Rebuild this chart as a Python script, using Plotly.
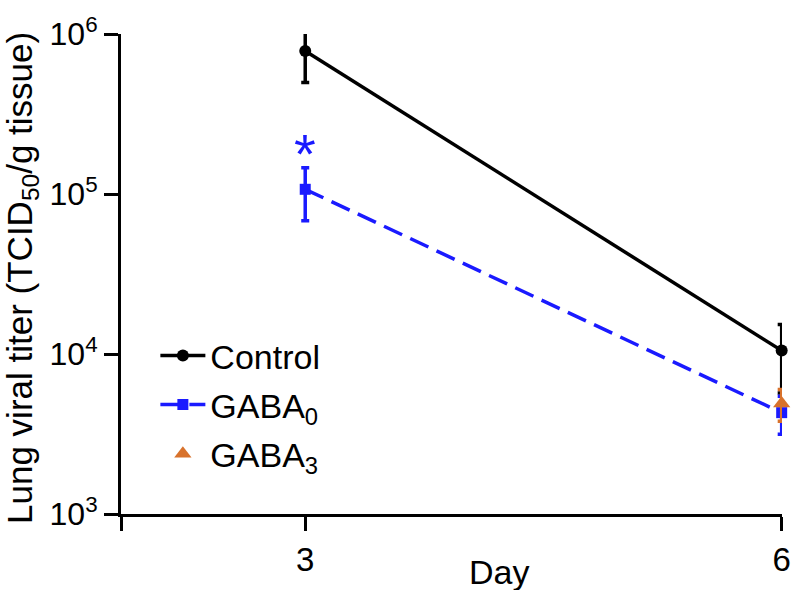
import plotly.graph_objects as go

days = [3, 6]
control = [7.83e5, 1.05e4]
control_err = [2.85e5, 4.8e3]
gaba0 = [1.07e5, 4.3e3]
gaba0_err = [3.9e4, 1.15e3]
gaba3_days = [6]
gaba3 = [4.9e3]
gaba3_err = [1.1e3]

y_tickvals = [1e3, 1e4, 1e5, 1e6]
y_ticktext = ["10<sup>3</sup>", "10<sup>4</sup>", "10<sup>5</sup>", "10<sup>6</sup>"]
x_range = [1.84, 6.002]
x_tickvals = [1.84, 3, 6]
x_ticktext = ["", "3", "6"]

BLUE = "#1a1aff"
ORANGE = "#d8722c"
FONT = "Liberation Sans, Arial, Helvetica, sans-serif"

fig = go.Figure()
fig.add_trace(go.Scatter(
    x=days, y=control, name="Control", mode="lines+markers",
    line=dict(color="black", width=3.5),
    marker=dict(symbol="circle", size=12, color="black"),
    error_y=dict(type="data", array=control_err, color="black", thickness=3.5, width=4),
    cliponaxis=False, legendgroup="a"))
fig.add_trace(go.Scatter(
    x=days, y=gaba0, name="GABA<sub>0</sub>", mode="lines+markers",
    line=dict(color=BLUE, width=3.5, dash="20px,9px"),
    marker=dict(symbol="square", size=11, color=BLUE),
    error_y=dict(type="data", array=gaba0_err, color=BLUE, thickness=3.5, width=4),
    cliponaxis=False, legendgroup="b"))
fig.add_trace(go.Scatter(
    x=gaba3_days, y=gaba3, name="GABA<sub>3</sub>", mode="markers",
    marker=dict(symbol="triangle-up", size=15, color=ORANGE),
    error_y=dict(type="data", array=gaba3_err, color=ORANGE, thickness=3.5, width=4),
    cliponaxis=False, legendgroup="c"))

fig.add_annotation(x=3, y=5.254, xref="x", yref="y", text="*", showarrow=False,
                   font=dict(size=56, color=BLUE, family=FONT), xanchor="center", yanchor="middle")
fig.add_annotation(x=-0.1498, y=0.4917, xref="paper", yref="paper",
                   text="Lung viral titer (TCID<sub>50</sub>/g tissue)", textangle=-90,
                   showarrow=False, font=dict(size=35, color="black", family=FONT),
                   xanchor="center", yanchor="middle")
fig.add_annotation(x=0.572, y=-0.12, xref="paper", yref="paper", text="Day",
                   showarrow=False, font=dict(size=34, color="black", family=FONT),
                   xanchor="center", yanchor="middle")

fig.update_layout(
    width=791, height=590,
    margin=dict(l=121, r=9, t=34, b=76, autoexpand=False),
    paper_bgcolor="white", plot_bgcolor="white",
    font=dict(family=FONT, size=32, color="black"),
    showlegend=True,
    legend=dict(x=0.052, y=0.39, xanchor="left", yanchor="top",
                font=dict(size=34, family=FONT), bgcolor="rgba(0,0,0,0)",
                tracegroupgap=2, itemwidth=45),
    xaxis=dict(range=x_range, tickvals=x_tickvals, ticktext=x_ticktext,
               showline=True, linecolor="black", linewidth=3, ticks="outside",
               ticklen=14, tickwidth=3, tickcolor="black", showgrid=False, zeroline=False,
               tickfont=dict(size=33), ticklabeloverflow="allow", automargin=False),
    yaxis=dict(type="log", range=[3, 6], tickvals=y_tickvals, ticktext=y_ticktext,
               showline=True, linecolor="black", linewidth=3, ticks="outside",
               ticklen=14, tickwidth=3, tickcolor="black", showgrid=False, zeroline=False,
               tickfont=dict(size=32), ticklabeloverflow="allow", automargin=False),
)

fig.write_html("out.html", config={"displayModeBar": False},
               post_script="document.body.style.margin='0';document.body.style.overflow='hidden';")
